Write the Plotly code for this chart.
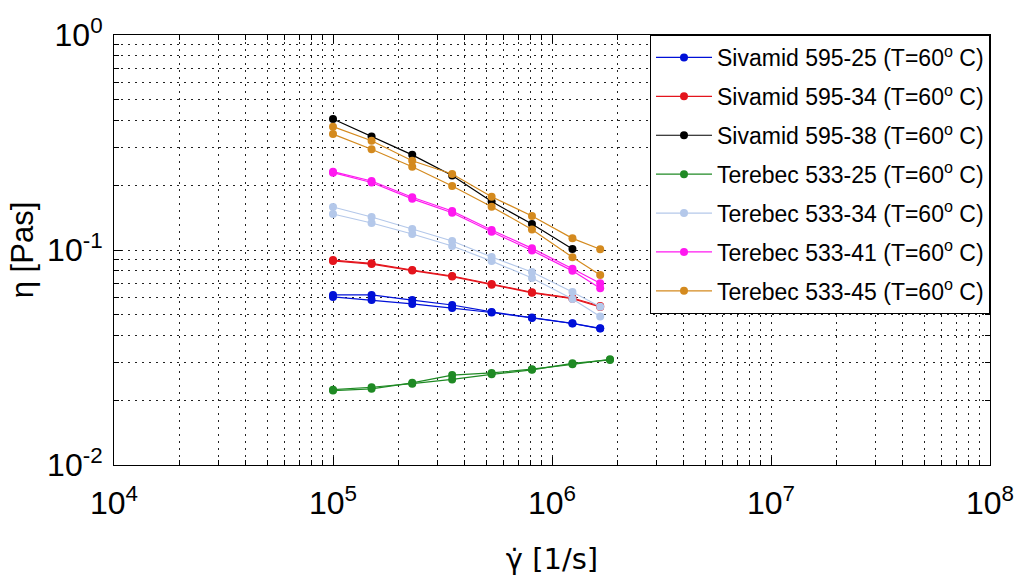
import plotly.graph_objects as go

# Shear rates [1/s]
shear_rate = [1.0e5, 1.5e5, 2.3e5, 3.5e5, 5.3e5, 8.1e5, 1.24e6, 1.66e6]
shear_rate_t25 = [1.0e5, 1.5e5, 2.3e5, 3.5e5, 5.3e5, 8.1e5, 1.24e6, 1.84e6]
shear_rate_s38 = [1.0e5, 1.5e5, 2.3e5, 3.5e5, 5.3e5, 8.1e5, 1.24e6]

# Viscosities [Pas], two runs per material where available
s25_a = [0.0618, 0.0618, 0.0585, 0.0555, 0.0515, 0.0485, 0.0456, 0.0432]
s25_b = [0.0605, 0.0585, 0.0561, 0.0537, 0.0512, 0.0483, 0.0455, 0.0431]
s34_a = [0.0898, 0.0867, 0.0807, 0.0757, 0.0695, 0.0636, 0.0598, 0.0549]
s34_b = [0.0890, 0.0860, 0.0802, 0.0752, 0.0690, 0.0632, 0.0594, 0.0543]
s38 = [0.407, 0.337, 0.277, 0.222, 0.168, 0.132, 0.101]
t25_a = [0.0222, 0.0226, 0.0241, 0.0262, 0.0268, 0.0279, 0.0294, 0.0310]
t25_b = [0.0224, 0.0230, 0.0239, 0.0250, 0.0264, 0.0277, 0.0297, 0.0308]
t34_a = [0.1585, 0.1424, 0.1252, 0.1101, 0.0928, 0.0790, 0.0638, 0.0545]
t34_b = [0.1470, 0.1335, 0.1187, 0.1044, 0.0888, 0.0741, 0.0592, 0.0490]
t41_a = [0.2313, 0.2094, 0.1759, 0.1518, 0.1239, 0.1018, 0.0818, 0.0700]
t41_b = [0.2290, 0.2060, 0.1730, 0.1490, 0.1215, 0.0995, 0.0800, 0.0664]
t45_a = [0.3746, 0.3224, 0.2602, 0.2257, 0.1770, 0.1439, 0.1133, 0.1008]
t45_b = [0.3460, 0.2940, 0.2438, 0.1985, 0.1590, 0.1247, 0.0925, 0.0765]

# Decade tick labels
x_tickvals = [1e4, 1e5, 1e6, 1e7, 1e8]
x_ticktext = ["10<sup>4</sup>", "10<sup>5</sup>", "10<sup>6</sup>", "10<sup>7</sup>", "10<sup>8</sup>"]
y_tickvals = [1e-2, 1e-1, 1e0]
y_ticktext = ["10<sup>-2</sup>", "10<sup>-1</sup>", "10<sup>0</sup>"]

series = [
    ("Sivamid 595-25 (T=60<sup>o</sup> C)", "#0010d8", [(shear_rate, s25_a), (shear_rate, s25_b)]),
    ("Sivamid 595-34 (T=60<sup>o</sup> C)", "#e4141c", [(shear_rate, s34_a), (shear_rate, s34_b)]),
    ("Sivamid 595-38 (T=60<sup>o</sup> C)", "#000000", [(shear_rate_s38, s38)]),
    ("Terebec 533-25 (T=60<sup>o</sup> C)", "#1f8a24", [(shear_rate_t25, t25_a), (shear_rate_t25, t25_b)]),
    ("Terebec 533-34 (T=60<sup>o</sup> C)", "#b4c8ea", [(shear_rate, t34_a), (shear_rate, t34_b)]),
    ("Terebec 533-41 (T=60<sup>o</sup> C)", "#ff18f0", [(shear_rate, t41_a), (shear_rate, t41_b)]),
    ("Terebec 533-45 (T=60<sup>o</sup> C)", "#d48a1e", [(shear_rate, t45_a), (shear_rate, t45_b)]),
]

fig = go.Figure()
for name, color, runs in series:
    for i, (xs, ys) in enumerate(runs):
        fig.add_trace(go.Scatter(
            x=xs, y=ys, name=name, legendgroup=name, showlegend=(i == 0),
            mode="lines+markers",
            line=dict(color=color, width=1.2),
            marker=dict(color=color, size=8, symbol="circle"),
        ))

FONT = "Liberation Sans, Arial, sans-serif"
grid_dash = "2px,5px"

axis_common = dict(
    type="log", tickmode="array", automargin=False, ticklabeloverflow="allow",
    showline=True, linecolor="black", linewidth=1, mirror="allticks",
    ticks="inside", ticklen=8, tickcolor="black",
    showgrid=True, gridcolor="#222222", gridwidth=1, griddash=grid_dash,
    zeroline=False,
    tickfont=dict(family=FONT, size=32, color="black"),
    minor=dict(dtick="D1", ticks="inside", ticklen=5, tickcolor="black",
               showgrid=True, gridcolor="#222222", gridwidth=1, griddash=grid_dash),
)

fig.update_xaxes(range=[4, 8], tickvals=x_tickvals, ticktext=x_ticktext, ticklabelstandoff=10,
                 title=dict(text="γ̇ [1/s]", font=dict(family="DejaVu Sans, sans-serif", size=29, color="black"),
                            standoff=28),
                 **axis_common)
fig.update_yaxes(range=[-2, 0], tickvals=y_tickvals, ticktext=y_ticktext, ticklabelstandoff=4,
                 title=dict(text="η [Pas]", font=dict(family=FONT, size=31, color="black"), standoff=4),
                 **axis_common)

fig.update_layout(
    width=1016, height=583,
    margin=dict(l=114, r=26, t=35, b=118),
    paper_bgcolor="white", plot_bgcolor="white",
    showlegend=True,
    legend=dict(
        x=1, y=1, xanchor="right", yanchor="top",
        bgcolor="white", bordercolor="black", borderwidth=1,
        font=dict(family=FONT, size=23, color="black"),
        tracegroupgap=6, itemwidth=56, traceorder="grouped",
    ),
)

fig.write_html("out.html")
